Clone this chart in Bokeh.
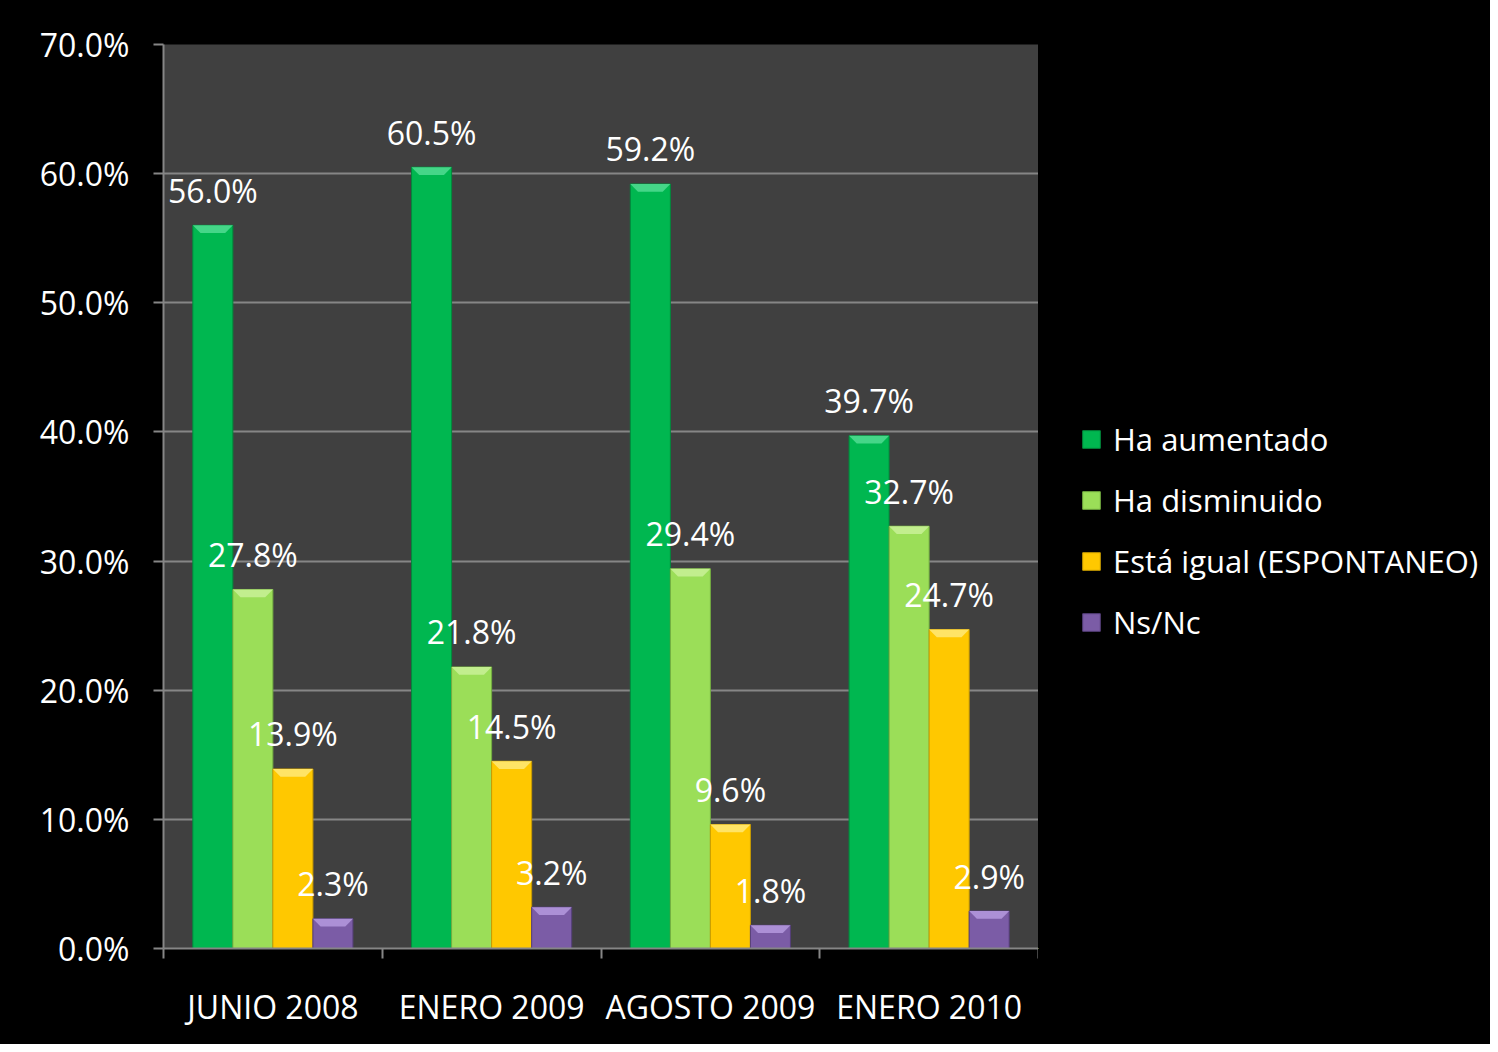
from bokeh.plotting import figure
from bokeh.layouts import row
from bokeh.models import (ColumnDataSource, FixedTicker, Legend, LegendItem, Range1d)
from bokeh.core.properties import value
from bokeh.embed import file_html
from bokeh.resources import INLINE

# ---- data ----
categories = ["JUNIO 2008", "ENERO 2009", "AGOSTO 2009", "ENERO 2010"]
series_names = ["Ha aumentado", "Ha disminuido", "Está igual (ESPONTANEO)", "Ns/Nc"]
ha_aumentado = [56.0, 60.5, 59.2, 39.7]
ha_disminuido = [27.8, 21.8, 29.4, 32.7]
esta_igual = [13.9, 14.5, 9.6, 24.7]
ns_nc = [2.3, 3.2, 1.8, 2.9]
y_ticks = [0, 10, 20, 30, 40, 50, 60, 70]
y_tick_labels = ["0.0%", "10.0%", "20.0%", "30.0%", "40.0%", "50.0%", "60.0%", "70.0%"]

series = [ha_aumentado, ha_disminuido, esta_igual, ns_nc]

# ---- style ----
FONT = "Open Sans"
fills = ["#00B750", "#9BDE58", "#FFC800", "#7B5CA6"]
tops = ["#45D688", "#C2EE8E", "#FFE466", "#AC90D6"]
edges = ["#008A3C", "#74AE40", "#C99C00", "#553F7A"]
grid_col = "#868686"

bar_w = 0.183
bevel_h = 0.6
bevel_d = 0.035

H = 1044
p = figure(width=1038, height=H, output_backend="svg", toolbar_location=None,
           x_range=Range1d(0, len(categories)), y_range=Range1d(0, 70),
           min_border_left=163, min_border_right=0, min_border_top=44,
           min_border_bottom=96)
p.background_fill_color = "#404040"
p.border_fill_color = "#000000"
p.outline_line_color = None

# legend panel (separate canvas to the right of the chart)
q = figure(width=452, height=H, output_backend="svg", toolbar_location=None,
           x_range=Range1d(0, 1), y_range=Range1d(0, 1),
           min_border=0)
q.background_fill_color = "#000000"
q.border_fill_color = "#000000"
q.outline_line_color = None
q.axis.visible = False
q.grid.visible = False

n = len(categories)
legend_items = []
for k, vals in enumerate(series):
    xs = [i + 0.5 + (k - 1.5) * bar_w for i in range(n)]
    src = ColumnDataSource(dict(x=xs, top=vals,
                                lbl=[f"{v:.1f}%" for v in vals]))
    p.vbar(x="x", top="top", bottom=0, width=bar_w, source=src,
           fill_color=fills[k], line_color=edges[k], line_width=1)
    # bevel on top
    pxs = [[x - bar_w / 2, x + bar_w / 2, x + bar_w / 2 - bevel_d, x - bar_w / 2 + bevel_d]
           for x in xs]
    pys = [[v, v, v - bevel_h, v - bevel_h] for v in vals]
    p.patches(pxs, pys, fill_color=tops[k], line_color=None)
    p.text(x="x", y="top", text="lbl", source=src, text_color="white",
           text_font=value(FONT), text_font_size="32px", text_align="center",
           text_baseline="alphabetic", y_offset=-35)
    # legend proxy (off-screen) in the legend canvas
    lr = q.vbar(x=[-5], top=[-5], bottom=[-6], width=0.1,
                fill_color=fills[k], line_color=edges[k])
    legend_items.append(LegendItem(label=series_names[k], renderers=[lr]))

# grid
p.xgrid.grid_line_color = None
p.ygrid.grid_line_color = grid_col
p.ygrid.grid_line_width = 2
p.ygrid.ticker = FixedTicker(ticks=y_ticks)

# y axis
p.yaxis.ticker = FixedTicker(ticks=y_ticks)
p.yaxis.major_label_overrides = {t: l for t, l in zip(y_ticks, y_tick_labels)}
p.yaxis.axis_line_color = grid_col
p.yaxis.axis_line_width = 2
p.yaxis.major_tick_line_color = grid_col
p.yaxis.major_tick_line_width = 2
p.yaxis.major_tick_in = 0
p.yaxis.major_tick_out = 10
p.yaxis.minor_tick_line_color = None
p.yaxis.major_label_standoff = 24
p.yaxis.major_label_text_color = "white"
p.yaxis.major_label_text_font = FONT
p.yaxis.major_label_text_font_size = "32px"

# x axis
centers = [i + 0.5 for i in range(n)]
p.xaxis.ticker = FixedTicker(ticks=centers, minor_ticks=list(range(n + 1)))
p.xaxis.major_label_overrides = {c: l for c, l in zip(centers, categories)}
p.xaxis.axis_line_color = grid_col
p.xaxis.axis_line_width = 2
p.xaxis.major_tick_line_color = None
p.xaxis.minor_tick_line_color = grid_col
p.xaxis.minor_tick_line_width = 2
p.xaxis.minor_tick_in = 0
p.xaxis.minor_tick_out = 10
p.xaxis.major_label_standoff = 26
p.xaxis.major_label_text_color = "white"
p.xaxis.major_label_text_font = FONT
p.xaxis.major_label_text_font_size = "32px"

legend = Legend(items=legend_items, location=(32, 295))
legend.background_fill_alpha = 0
legend.border_line_alpha = 0
legend.margin = 0
legend.padding = 10
legend.glyph_width = 22
legend.glyph_height = 22
legend.label_height = 40
legend.spacing = 19
legend.label_standoff = 11
legend.label_text_color = "white"
legend.label_text_font = FONT
legend.label_text_font_size = "31px"
q.add_layout(legend, "center")

layout = row(p, q, spacing=0)
layout.styles = {"background-color": "#000000"}
open("out.html", "w").write(file_html(layout, INLINE))
